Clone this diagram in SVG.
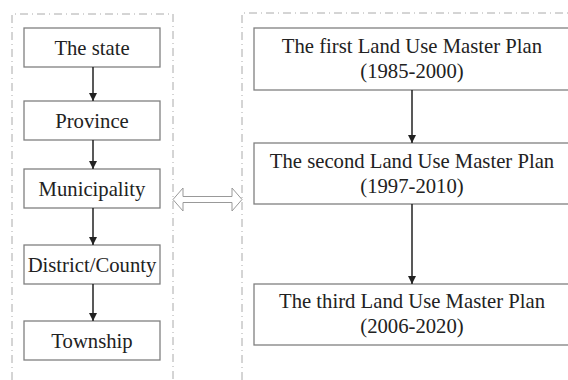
<svg xmlns="http://www.w3.org/2000/svg" width="568" height="380" viewBox="0 0 568 380">
<defs>
<style>
.box{fill:#fff;stroke:#808080;stroke-width:1.3}
.cont{fill:none;stroke:#aaa;stroke-width:1;stroke-dasharray:8,4,1,4}
.t{font-family:'Liberation Serif','DejaVu Serif',serif;font-size:20.7px;fill:#222;text-anchor:middle}
.arr{stroke:#222;stroke-width:1.5;fill:none}
</style>
<marker id="ah" viewBox="0 0 8 10" refX="8" refY="5" markerWidth="8" markerHeight="10" markerUnits="userSpaceOnUse" orient="auto">
<path d="M0,1 L8,5 L0,9 Z" fill="#222"/>
</marker>
</defs>
<rect width="568" height="380" fill="#fff"/>
<g id="containers">
<polyline class="cont" points="12,380 12,14 173,14 173,380"/>
<polyline class="cont" points="242,380 242,13 568,13"/>
</g>
<g font-family="Liberation Serif, DejaVu Serif, serif">
<g id="state"><rect class="box" x="24" y="28" width="136" height="39"/><text class="t" x="92" y="55">The state</text></g>
<g id="province"><rect class="box" x="24" y="101" width="136" height="39"/><text class="t" x="92" y="128">Province</text></g>
<g id="municipality"><rect class="box" x="24" y="169" width="136" height="39"/><text class="t" x="92" y="196">Municipality</text></g>
<g id="district"><rect class="box" x="24" y="245" width="136" height="39"/><text class="t" x="92" y="272">District/County</text></g>
<g id="township"><rect class="box" x="24" y="321" width="136" height="39"/><text class="t" x="92" y="348">Township</text></g>
<g id="plan1"><rect class="box" x="254" y="28" width="318" height="62"/><text class="t" x="412" y="53">The first Land Use Master Plan</text><text class="t" x="412" y="78">(1985-2000)</text></g>
<g id="plan2"><rect class="box" x="254" y="143" width="318" height="61"/><text class="t" x="412" y="168">The second Land Use Master Plan</text><text class="t" x="412" y="193">(1997-2010)</text></g>
<g id="plan3"><rect class="box" x="254" y="284" width="318" height="61"/><text class="t" x="412" y="308">The third Land Use Master Plan</text><text class="t" x="412" y="333">(2006-2020)</text></g>
</g>
<g id="connectors">
<line class="arr" x1="93" y1="67" x2="93" y2="101" marker-end="url(#ah)"/>
<line class="arr" x1="93" y1="140" x2="93" y2="169" marker-end="url(#ah)"/>
<line class="arr" x1="93" y1="208" x2="93" y2="245" marker-end="url(#ah)"/>
<line class="arr" x1="93" y1="284" x2="93" y2="321" marker-end="url(#ah)"/>
<line class="arr" x1="412" y1="90" x2="412" y2="143" marker-end="url(#ah)"/>
<line class="arr" x1="412" y1="204" x2="412" y2="284" marker-end="url(#ah)"/>
<path d="M173,199.5 L183,188 L183,196.5 L232,196.5 L232,188 L242,199.5 L232,211 L232,202.5 L183,202.5 L183,211 Z" fill="#fff" stroke="#999" stroke-width="1"/>
</g>
</svg>
